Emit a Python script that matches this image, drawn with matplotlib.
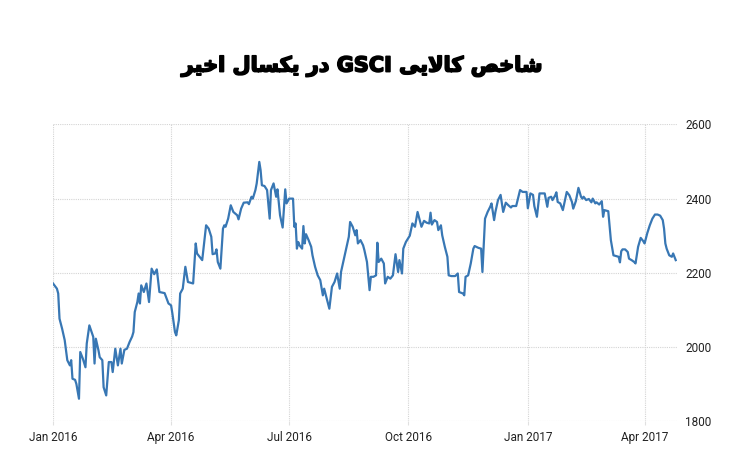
import pandas as pd
from matplotlib import pyplot as plt
import matplotlib.dates as mdates
import matplotlib.patheffects as pe

TITLE = 'شاخص کالایی GSCI در یکسال اخیر'

dates = [
    '2016-01-01', '2016-01-04', '2016-01-05', '2016-01-06', '2016-01-08', '2016-01-10', '2016-01-12', '2016-01-14',
    '2016-01-15', '2016-01-16', '2016-01-18', '2016-01-19', '2016-01-21', '2016-01-22', '2016-01-24', '2016-01-26',
    '2016-01-27', '2016-01-29', '2016-02-01', '2016-02-02', '2016-02-03', '2016-02-05', '2016-02-06', '2016-02-08',
    '2016-02-09', '2016-02-11', '2016-02-13', '2016-02-15', '2016-02-16', '2016-02-18', '2016-02-20', '2016-02-22',
    '2016-02-23', '2016-02-25', '2016-02-27', '2016-02-29', '2016-03-02', '2016-03-03', '2016-03-04', '2016-03-06',
    '2016-03-07', '2016-03-08', '2016-03-09', '2016-03-11', '2016-03-13', '2016-03-15', '2016-03-17', '2016-03-19',
    '2016-03-21', '2016-03-23', '2016-03-27', '2016-03-30', '2016-04-01', '2016-04-02', '2016-04-04', '2016-04-05',
    '2016-04-07', '2016-04-08', '2016-04-10', '2016-04-12', '2016-04-14', '2016-04-18', '2016-04-20', '2016-04-21',
    '2016-04-25', '2016-04-28', '2016-04-30', '2016-05-02', '2016-05-03', '2016-05-05', '2016-05-06', '2016-05-07',
    '2016-05-09', '2016-05-11', '2016-05-12', '2016-05-13', '2016-05-15', '2016-05-17', '2016-05-19', '2016-05-22',
    '2016-05-23', '2016-05-25', '2016-05-27', '2016-05-30', '2016-05-31', '2016-06-02', '2016-06-03', '2016-06-05',
    '2016-06-06', '2016-06-08', '2016-06-09', '2016-06-10', '2016-06-12', '2016-06-14', '2016-06-16', '2016-06-17',
    '2016-06-19', '2016-06-21', '2016-06-22', '2016-06-24', '2016-06-26', '2016-06-28', '2016-06-29', '2016-07-01',
    '2016-07-04', '2016-07-05', '2016-07-06', '2016-07-07', '2016-07-08', '2016-07-09', '2016-07-11', '2016-07-12',
    '2016-07-13', '2016-07-14', '2016-07-16', '2016-07-18', '2016-07-19', '2016-07-21', '2016-07-23', '2016-07-25',
    '2016-07-27', '2016-07-28', '2016-07-30', '2016-08-01', '2016-08-03', '2016-08-05', '2016-08-07', '2016-08-09',
    '2016-08-10', '2016-08-12', '2016-08-14', '2016-08-16', '2016-08-17', '2016-08-19', '2016-08-21', '2016-08-22',
    '2016-08-23', '2016-08-25', '2016-08-27', '2016-08-28', '2016-08-30', '2016-09-01', '2016-09-02', '2016-09-04',
    '2016-09-06', '2016-09-07', '2016-09-08', '2016-09-10', '2016-09-12', '2016-09-13', '2016-09-15', '2016-09-17',
    '2016-09-19', '2016-09-21', '2016-09-23', '2016-09-24', '2016-09-26', '2016-09-27', '2016-09-29', '2016-10-02',
    '2016-10-04', '2016-10-06', '2016-10-08', '2016-10-11', '2016-10-13', '2016-10-15', '2016-10-17', '2016-10-18',
    '2016-10-19', '2016-10-21', '2016-10-23', '2016-10-24', '2016-10-26', '2016-10-27', '2016-10-29', '2016-10-31',
    '2016-11-01', '2016-11-03', '2016-11-06', '2016-11-08', '2016-11-09', '2016-11-12', '2016-11-13', '2016-11-14',
    '2016-11-16', '2016-11-18', '2016-11-20', '2016-11-21', '2016-11-24', '2016-11-26', '2016-11-27', '2016-11-29',
    '2016-12-01', '2016-12-03', '2016-12-04', '2016-12-06', '2016-12-07', '2016-12-09', '2016-12-11', '2016-12-13',
    '2016-12-15', '2016-12-17', '2016-12-19', '2016-12-20', '2016-12-23', '2016-12-26', '2016-12-28', '2016-12-31',
    '2017-01-01', '2017-01-03', '2017-01-05', '2017-01-06', '2017-01-08', '2017-01-10', '2017-01-12', '2017-01-14',
    '2017-01-16', '2017-01-17', '2017-01-19', '2017-01-20', '2017-01-22', '2017-01-23', '2017-01-24', '2017-01-26',
    '2017-01-28', '2017-01-31', '2017-02-02', '2017-02-04', '2017-02-05', '2017-02-07', '2017-02-09', '2017-02-11',
    '2017-02-12', '2017-02-13', '2017-02-15', '2017-02-17', '2017-02-19', '2017-02-20', '2017-02-22', '2017-02-23',
    '2017-02-25', '2017-02-27', '2017-02-28', '2017-03-01', '2017-03-04', '2017-03-05', '2017-03-06', '2017-03-08',
    '2017-03-10', '2017-03-12', '2017-03-13', '2017-03-14', '2017-03-15', '2017-03-17', '2017-03-19', '2017-03-20',
    '2017-03-22', '2017-03-24', '2017-03-25', '2017-03-27', '2017-03-29', '2017-03-31', '2017-04-01', '2017-04-03',
    '2017-04-05', '2017-04-07', '2017-04-09', '2017-04-11', '2017-04-13', '2017-04-15', '2017-04-16', '2017-04-17',
    '2017-04-18', '2017-04-20', '2017-04-22', '2017-04-23', '2017-04-25',
]

gsci = [
    2171, 2157, 2144, 2076, 2049, 2018, 1964, 1950,
    1964, 1914, 1911, 1900, 1860, 1986, 1968, 1945,
    2009, 2058, 2027, 1955, 2022, 1991, 1972, 1964,
    1891, 1869, 1959, 1959, 1932, 1995, 1950, 1995,
    1955, 1992, 1995, 2013, 2028, 2040, 2094, 2121,
    2144, 2117, 2166, 2148, 2171, 2121, 2211, 2196,
    2209, 2148, 2145, 2117, 2112, 2090, 2040, 2031,
    2072, 2144, 2157, 2216, 2175, 2171, 2279, 2252,
    2234, 2328, 2319, 2297, 2250, 2252, 2263, 2229,
    2211, 2319, 2328, 2324, 2346, 2382, 2364, 2355,
    2344, 2373, 2389, 2390, 2385, 2405, 2400, 2423,
    2441, 2499, 2477, 2436, 2434, 2423, 2346, 2423,
    2441, 2405, 2425, 2355, 2322, 2425, 2387, 2400,
    2400, 2324, 2333, 2265, 2283, 2274, 2265, 2326,
    2279, 2304, 2288, 2270, 2247, 2216, 2193, 2180,
    2139, 2157, 2130, 2103, 2162, 2175, 2198, 2157,
    2202, 2234, 2265, 2297, 2337, 2324, 2301, 2315,
    2279, 2288, 2274, 2261, 2229, 2153, 2189, 2189,
    2193, 2281, 2229, 2238, 2225, 2171, 2189, 2184,
    2193, 2250, 2202, 2234, 2198, 2265, 2283, 2300,
    2333, 2324, 2364, 2324, 2340, 2335, 2333, 2362,
    2330, 2342, 2337, 2315, 2328, 2301, 2270, 2243,
    2193, 2191, 2191, 2198, 2148, 2144, 2139, 2189,
    2193, 2225, 2265, 2272, 2267, 2265, 2202, 2346,
    2364, 2378, 2387, 2342, 2364, 2396, 2410, 2364,
    2389, 2382, 2376, 2380, 2380, 2423, 2418, 2418,
    2374, 2414, 2410, 2380, 2351, 2414, 2414, 2414,
    2378, 2402, 2405, 2396, 2408, 2417, 2391, 2387,
    2369, 2418, 2409, 2391, 2373, 2393, 2429, 2405,
    2400, 2405, 2396, 2399, 2390, 2400, 2387, 2390,
    2384, 2393, 2351, 2369, 2366, 2328, 2288, 2247,
    2245, 2243, 2228, 2258, 2263, 2263, 2256, 2238,
    2234, 2229, 2225, 2270, 2294, 2285, 2279, 2306,
    2328, 2346, 2357, 2357, 2354, 2342, 2319, 2279,
    2265, 2247, 2243, 2252, 2234,
]

y_ticks = [1800, 2000, 2200, 2400, 2600]
x_ticks = ['2016-01-01', '2016-04-01', '2016-07-01', '2016-10-01', '2017-01-01', '2017-04-01']

# matplotlib has no arabic shaping, so pick the presentation forms by hand
# (isolated, final, initial, medial)
FORMS = {
    'ا': ('\uFE8D', '\uFE8E', None, None),
    'د': ('\uFEA9', '\uFEAA', None, None),
    'ر': ('\uFEAD', '\uFEAE', None, None),
    'LA': ('\uFEFB', '\uFEFC', None, None),
    'خ': ('\uFEA5', '\uFEA6', '\uFEA7', '\uFEA8'),
    'س': ('\uFEB1', '\uFEB2', '\uFEB3', '\uFEB4'),
    'ش': ('\uFEB5', '\uFEB6', '\uFEB7', '\uFEB8'),
    'ص': ('\uFEB9', '\uFEBA', '\uFEBB', '\uFEBC'),
    'ک': ('\uFB8E', '\uFB8F', '\uFB90', '\uFB91'),
    'ل': ('\uFEDD', '\uFEDE', '\uFEDF', '\uFEE0'),
    'ی': ('\uFBFC', '\uFBFD', '\uFBFE', '\uFBFF'),
}


def shape(word):
    if word[0] not in FORMS:
        return word
    toks = []
    i = 0
    while i < len(word):
        if word[i:i + 2] == 'لا':
            toks.append('LA')
            i += 2
        else:
            toks.append(word[i])
            i += 1
    out = []
    for k, t in enumerate(toks):
        f = FORMS[t]
        prev = k > 0 and FORMS[toks[k - 1]][2] is not None
        nxt = k < len(toks) - 1 and f[2] is not None
        if prev:
            out.append(f[3] if nxt else f[1])
        else:
            out.append(f[2] if nxt else f[0])
    return ''.join(reversed(out))


def visual(text):
    return ' '.join(shape(w) for w in reversed(text.split()))


if __name__ == '__main__':
    x = pd.to_datetime(dates)
    fig = plt.figure(figsize=(7.5, 4.71), dpi=100)
    ax = fig.add_axes([0.0707, 0.1062, 0.832, 0.6295])

    ax.plot(x, gsci, color='#3877b4', lw=1.6, solid_joinstyle='round')

    ax.set_ylim(1800, 2600)
    ax.set_yticks(y_ticks)
    ax.set_xlim(pd.Timestamp('2016-01-01'), pd.Timestamp('2017-04-26'))
    ax.set_xticks(pd.to_datetime(x_ticks))
    ax.xaxis.set_major_formatter(mdates.DateFormatter('%b %Y'))

    ax.yaxis.tick_right()
    for s in ax.spines.values():
        s.set_visible(False)
    ax.grid(True, color='#d4d4d4', ls=(0, (1, 1)), lw=0.8)
    ax.tick_params(axis='y', length=0, pad=6, labelsize=8.5, labelcolor='#222222')
    ax.tick_params(axis='x', length=3, color='#e0e0e0', pad=4, labelsize=8.5, labelcolor='#222222')
    for lab in ax.get_xticklabels() + ax.get_yticklabels():
        lab.set_family(['Liberation Sans Narrow', 'Roboto', 'DejaVu Sans'])

    t = fig.text(0.483, 0.848, visual(TITLE), ha='center', va='baseline', fontsize=15,
                 fontweight='bold', family=['DejaVu Sans'], color='black')
    t.set_path_effects([pe.withStroke(linewidth=1.2, foreground='black')])

    fig.savefig('out.png', dpi=100)
